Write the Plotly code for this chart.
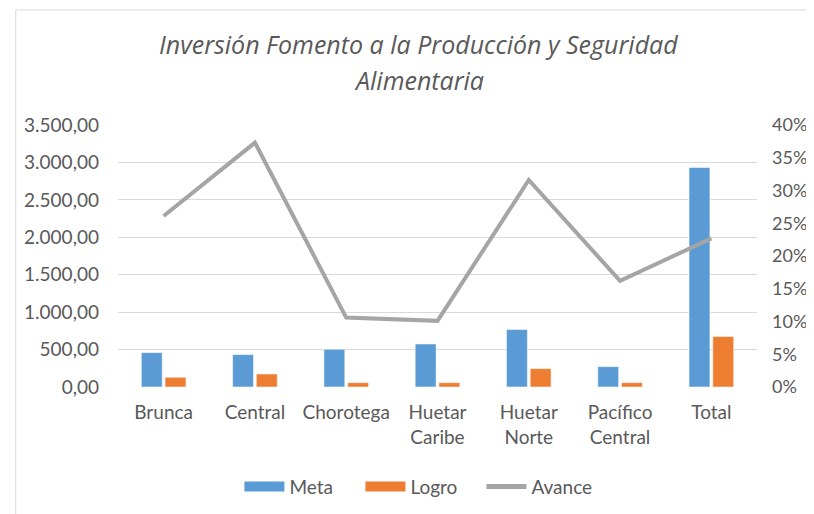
"""Inversión Fomento a la Producción y Seguridad Alimentaria — combo chart."""
import plotly.graph_objects as go

regiones = ["Brunca", "Central", "Chorotega", "Huetar<br>Caribe",
            "Huetar<br>Norte", "Pacífico<br>Central", "Total"]
meta = [460, 433, 504, 575, 767, 272, 2933]
logro = [130, 174, 58, 58, 246, 58, 673]
avance = [0.261, 0.373, 0.106, 0.101, 0.316, 0.162, 0.227]

FONT = "Lato, 'Open Sans', sans-serif"
TXT = "#595959"
AZUL, NARANJA, GRIS = "#5B9BD5", "#ED7D31", "#A5A5A5"

fig = go.Figure()
fig.add_trace(go.Bar(x=regiones, y=meta, name="Meta", marker_color=AZUL,
                     showlegend=False))
fig.add_trace(go.Bar(x=regiones, y=logro, name="Logro", marker_color=NARANJA,
                     showlegend=False))
fig.add_trace(
    go.Scatter(
        x=regiones, y=avance, name="Avance", mode="lines", yaxis="y2",
        line=dict(color=GRIS, width=4), showlegend=False,
    )
)
# legend entries drawn as wide swatches, like the original
for nombre, color, ancho in [("Meta", AZUL, 10), ("Logro", NARANJA, 10), ("Avance", GRIS, 5)]:
    fig.add_trace(go.Scatter(x=[None], y=[None], mode="lines", name=nombre,
                             line=dict(color=color, width=ancho)))

# page body has an 8px margin, so the figure is 8px smaller and shifted
fig.update_layout(
    width=806, height=506,
    template="plotly_white",
    font=dict(family=FONT, size=19, color=TXT),
    separators=",.",
    barmode="group", bargap=0.48, bargroupgap=0.12,
    margin=dict(l=110, r=57, t=117, b=127, autoexpand=False),
    plot_bgcolor="white", paper_bgcolor="white",
    xaxis=dict(showgrid=False, showline=False, ticks="", ticklabelstandoff=12),
    yaxis=dict(
        range=[0, 3500], dtick=500, tickformat=",.2f",
        gridcolor="#D9D9D9", gridwidth=1, zeroline=False, showline=False,
        ticks="", ticklabelstandoff=18,
    ),
    yaxis2=dict(
        range=[0, 0.4], dtick=0.05, tickformat=".0%", overlaying="y",
        side="right", showgrid=False, zeroline=False, showline=False,
        ticklabelstandoff=14, tickfont=dict(size=18),
    ),
    legend=dict(
        orientation="h", x=0.19, xanchor="left", y=-0.38, yanchor="middle",
        font=dict(size=19, color=TXT), itemwidth=40, entrywidth=66,
        traceorder="normal",
    ),
    annotations=[
        dict(text="<i>Inversión Fomento a la Producción y Seguridad</i>",
             xref="paper", yref="paper", x=0.471, y=1.31, yanchor="middle",
             showarrow=False,
             font=dict(family="'Open Sans', sans-serif", size=25, color=TXT)),
        dict(text="<i>Alimentaria</i>",
             xref="paper", yref="paper", x=0.471, y=1.172, yanchor="middle",
             showarrow=False,
             font=dict(family="'Open Sans', sans-serif", size=25, color=TXT)),
    ],
    shapes=[
        dict(type="rect", xref="paper", yref="paper",
             x0=-0.16, x1=1.1, y0=-0.5, y1=1.439,
             line=dict(color="#D9D9D9", width=1)),
    ],
)

fig.write_html("out.html")
